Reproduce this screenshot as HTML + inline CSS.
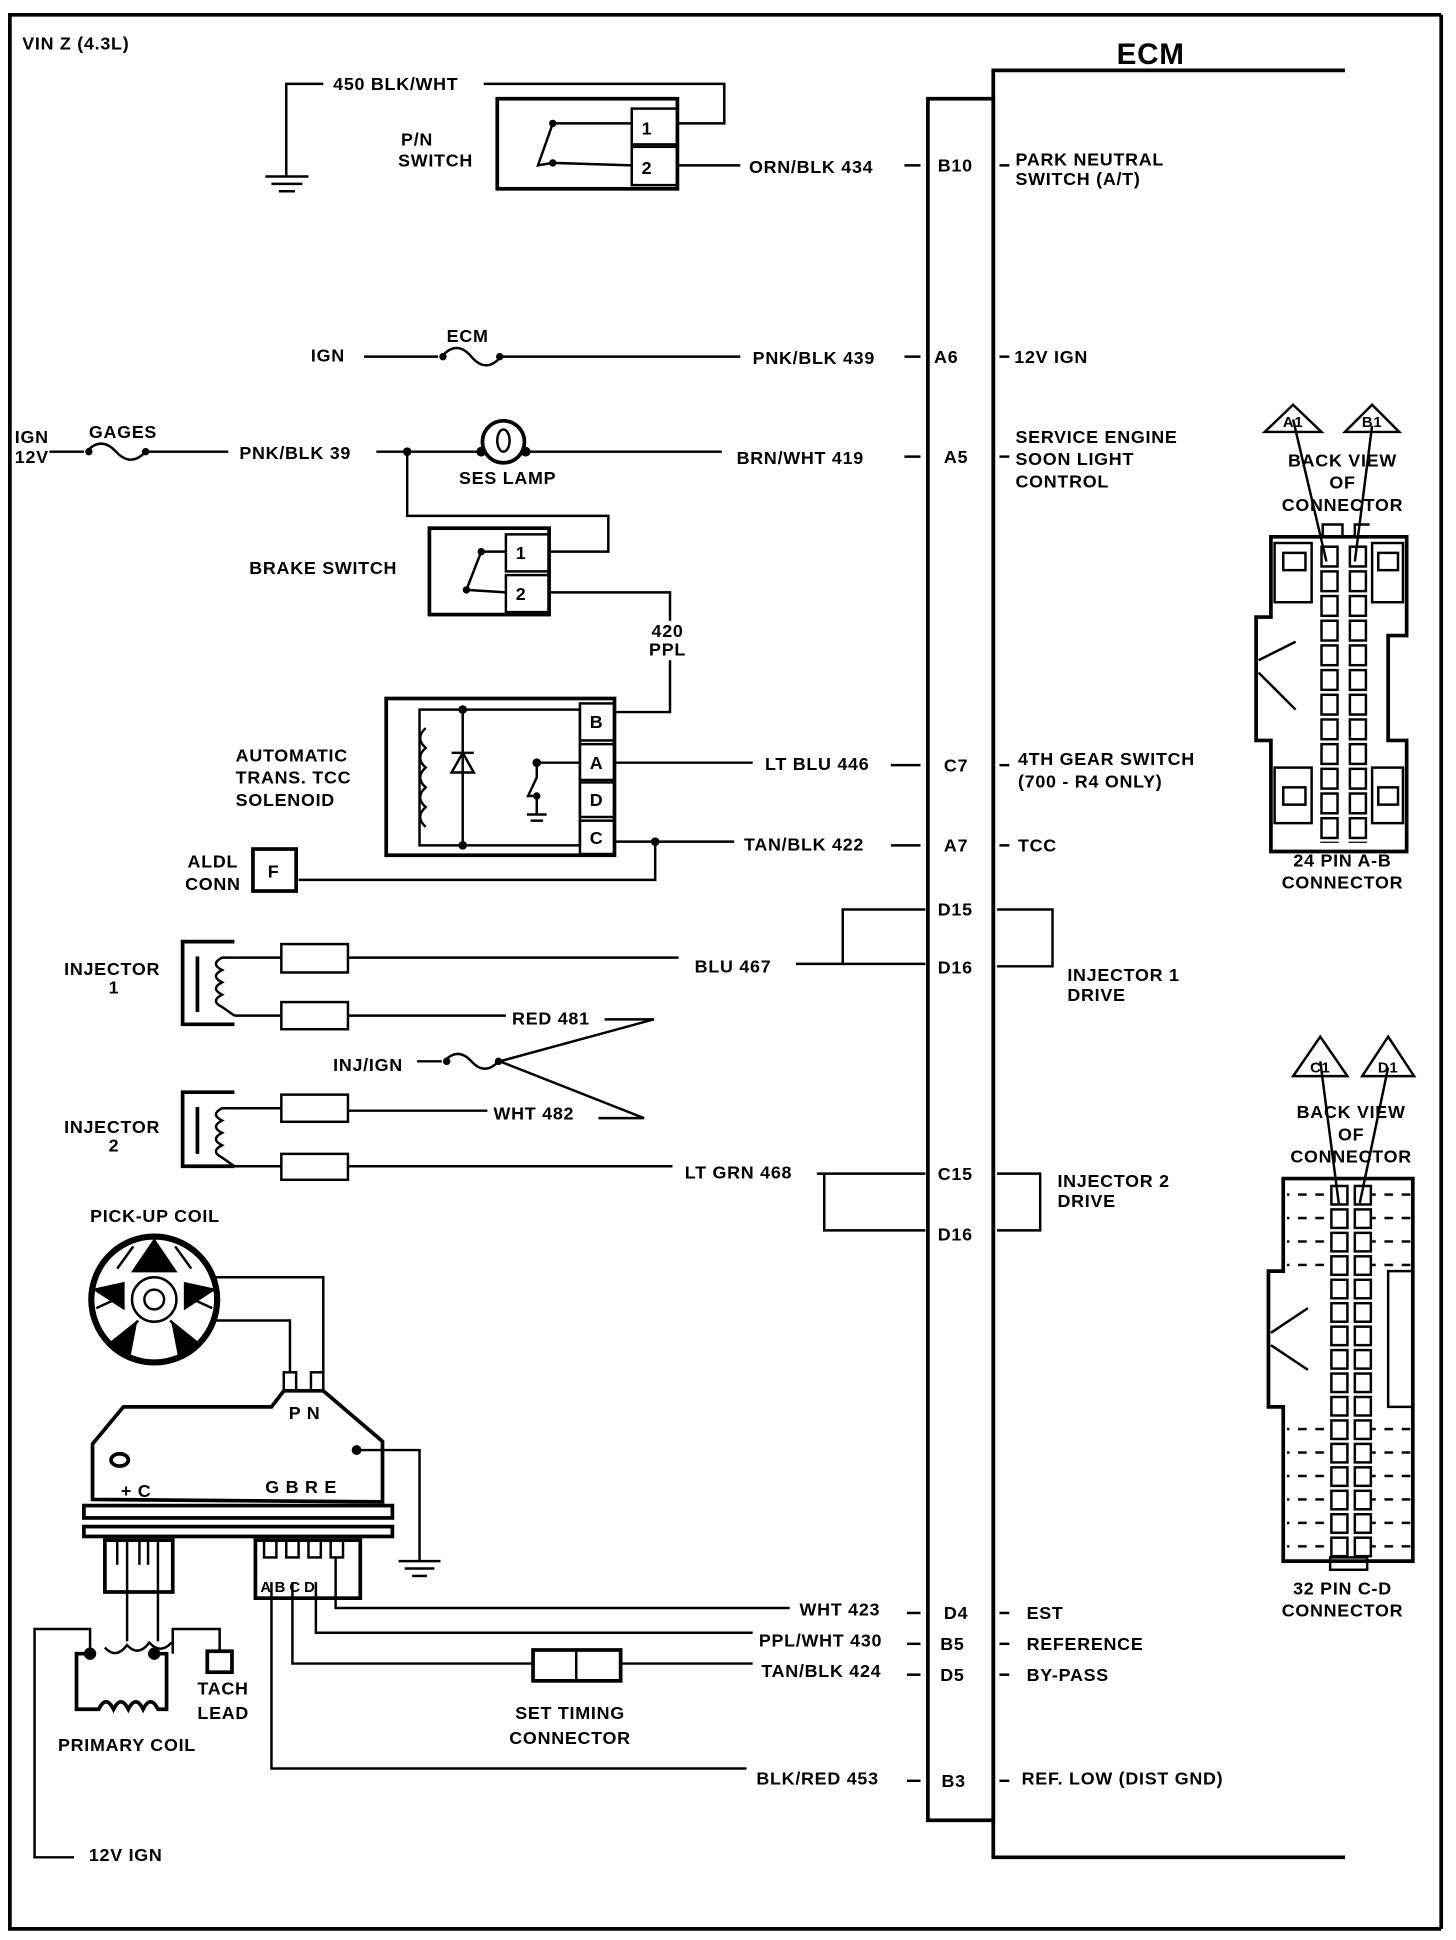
<!DOCTYPE html>
<html><head><meta charset="utf-8"><style>
html,body{margin:0;padding:0;background:#fff;}
svg{display:block;}
text{font-family:"Liberation Sans",sans-serif;font-weight:bold;font-size:14.5px;letter-spacing:0.6px;fill:#000;}
</style></head><body>
<svg width="1456" height="1940" viewBox="0 0 1180 1572" preserveAspectRatio="none" xmlns="http://www.w3.org/2000/svg">
<defs>
<pattern id="pins24" x="1070" y="442" width="23" height="20" patternUnits="userSpaceOnUse"><rect x="1" y="1" width="13" height="16" fill="#fff" stroke="#000" stroke-width="2"/></pattern>
<pattern id="pins32" x="1078" y="960" width="19" height="19" patternUnits="userSpaceOnUse"><rect x="1" y="1" width="13" height="15" fill="#fff" stroke="#000" stroke-width="2"/></pattern>
<pattern id="dash" x="0" y="962" width="14" height="19" patternUnits="userSpaceOnUse"><line x1="2" y1="6" x2="9" y2="6" stroke="#000" stroke-width="2"/></pattern>
</defs>
<g fill="none" stroke="#000" stroke-width="2">
<polyline points="1168,12 8,12 8,1563 1168,1563" stroke-width="3"/>
<line x1="1168" y1="12" x2="1168" y2="1563" stroke-width="3"/>
<polyline points="1090,57 805,57 805,1505 1090,1505" stroke-width="3"/>
<rect x="752" y="80" width="53" height="1395" stroke-width="3"/>
<g>
<line x1="733" y1="134" x2="746" y2="134"/><line x1="810" y1="134" x2="818" y2="134"/>
<line x1="733" y1="289" x2="746" y2="289"/><line x1="810" y1="289" x2="818" y2="289"/>
<line x1="733" y1="370" x2="746" y2="370"/><line x1="810" y1="370" x2="818" y2="370"/>
<line x1="722" y1="620" x2="746" y2="620"/><line x1="810" y1="620" x2="818" y2="620"/>
<line x1="722" y1="685" x2="746" y2="685"/><line x1="810" y1="685" x2="818" y2="685"/>
<line x1="735" y1="1307" x2="746" y2="1307"/><line x1="810" y1="1307" x2="818" y2="1307"/>
<line x1="735" y1="1332" x2="746" y2="1332"/><line x1="810" y1="1332" x2="818" y2="1332"/>
<line x1="735" y1="1357" x2="746" y2="1357"/><line x1="810" y1="1357" x2="818" y2="1357"/>
<line x1="735" y1="1443" x2="746" y2="1443"/><line x1="810" y1="1443" x2="818" y2="1443"/>
</g>
<polyline points="262,68 232,68 232,143"/>
<line x1="215" y1="143" x2="250" y2="143"/><line x1="220" y1="149" x2="245" y2="149"/><line x1="226" y1="155" x2="239" y2="155"/>
<polyline points="392,68 587,68 587,100 549,100"/>
<rect x="403" y="80" width="146" height="73" stroke-width="3"/>
<rect x="512" y="88" width="37" height="29"/><rect x="512" y="119" width="37" height="31"/>
<polyline points="512,100 448,100 436,134 448,132 512,134"/>
<line x1="549" y1="134" x2="600" y2="134"/>
<line x1="295" y1="289" x2="355" y2="289"/>
<path d="M358,289 q12,-14 24,0 q12,14 24,0"/>
<line x1="405" y1="289" x2="600" y2="289"/>
<line x1="40" y1="366" x2="68" y2="366"/>
<path d="M70,366 q12,-13 24,0 q12,13 24,0"/>
<line x1="120" y1="366" x2="185" y2="366"/>
<line x1="305" y1="366" x2="388" y2="366"/>
<circle cx="408" cy="358" r="17" stroke-width="3"/>
<ellipse cx="408" cy="357" rx="5" ry="9"/>
<line x1="428" y1="366" x2="585" y2="366"/>
<polyline points="330,366 330,418 493,418 493,447 445,447"/>
<rect x="348" y="428" width="97" height="70" stroke-width="3"/>
<rect x="410" y="433" width="35" height="30"/><rect x="410" y="466" width="35" height="30"/>
<polyline points="410,447 390,447 378,478 410,480"/>
<polyline points="445,480 543,480 543,503"/>
<polyline points="543,535 543,577 498,577"/>
<rect x="313" y="566" width="185" height="127" stroke-width="3"/>
<rect x="340" y="575" width="130" height="110"/>
<rect x="470" y="570" width="28" height="30"/><rect x="470" y="603" width="28" height="29"/>
<rect x="470" y="634" width="28" height="28"/><rect x="470" y="665" width="28" height="27"/>
<path d="M345,590 q-9,8 0,16 q-9,8 0,16 q-9,8 0,16 q-9,8 0,16 q-9,8 0,16"/>
<line x1="375" y1="575" x2="375" y2="685"/>
<path d="M366,626 L384,626 L375,610 Z M366,610 L384,610"/>
<polyline points="435,618 470,618"/>
<polyline points="435,618 435,630 428,645 435,645 435,660"/>
<line x1="427" y1="660" x2="443" y2="660"/><line x1="430" y1="665" x2="440" y2="665"/>
<line x1="498" y1="618" x2="610" y2="618"/>
<line x1="498" y1="682" x2="595" y2="682"/>
<polyline points="531,682 531,713 242,713"/>
<rect x="205" y="688" width="35" height="34" stroke-width="3"/>
<path d="M190,763 L148,763 L148,830 L190,830" stroke-width="3"/>
<line x1="160" y1="775" x2="160" y2="820" stroke-width="3"/>
<path d="M190,776 L180,776 q-10,5 0,10 q-10,5 0,10 q-10,5 0,10 q-10,5 0,10 L190,823"/>
<line x1="190" y1="776" x2="228" y2="776"/><line x1="190" y1="823" x2="228" y2="823"/>
<rect x="228" y="765" width="54" height="23"/><rect x="228" y="812" width="54" height="22"/>
<line x1="282" y1="776" x2="550" y2="776"/>
<polyline points="645,781 683,781 683,737 750,737"/><line x1="683" y1="781" x2="750" y2="781"/>
<polyline points="808,737 853,737 853,783 808,783"/>
<line x1="282" y1="823" x2="410" y2="823"/>
<polyline points="490,826 530,826 405,860 522,906 485,906"/>
<line x1="338" y1="860" x2="358" y2="860"/>
<path d="M360,860 q11,-12 22,0 q11,12 22,0"/>
<path d="M190,885 L148,885 L148,945 L190,945" stroke-width="3"/>
<line x1="160" y1="897" x2="160" y2="935" stroke-width="3"/>
<path d="M190,898 L180,898 q-10,5 0,10 q-10,5 0,10 q-10,5 0,10 q-10,5 0,10 L190,945"/>
<line x1="190" y1="898" x2="228" y2="898"/><line x1="190" y1="945" x2="228" y2="945"/>
<rect x="228" y="887" width="54" height="22"/><rect x="228" y="935" width="54" height="21"/>
<line x1="282" y1="900" x2="395" y2="900"/>
<line x1="282" y1="945" x2="545" y2="945"/>
<polyline points="662,951 750,951"/><polyline points="668,951 668,997 750,997"/>
<polyline points="808,951 843,951 843,997 808,997"/>
<circle cx="125" cy="1053" r="51" stroke-width="5"/>
<circle cx="125" cy="1053" r="18"/><circle cx="125" cy="1053" r="8"/>
<path d="M108,1010 L95,1028 M142,1010 L155,1028 M78,1060 L100,1050 M172,1060 L150,1050 M95,1090 L112,1070 M155,1090 L138,1070"/>
<path d="M125,1005 L108,1030 L142,1030 Z M77,1045 L100,1060 L100,1040 Z M173,1045 L150,1060 L150,1040 Z M90,1088 L110,1072 L105,1098 Z M160,1088 L140,1072 L145,1098 Z" fill="#000"/>
<polyline points="175,1035 262,1035 262,1112"/><polyline points="175,1070 235,1070 235,1112"/>
<rect x="230" y="1112" width="10" height="15"/><rect x="252" y="1112" width="10" height="15"/>
<polygon points="75,1215 75,1170 100,1140 220,1140 230,1127 262,1127 310,1168 310,1217" stroke-width="3"/>
<ellipse cx="97" cy="1183" rx="7" ry="5" stroke-width="3"/>
<polyline points="289,1175 340,1175 340,1265"/>
<line x1="323" y1="1265" x2="357" y2="1265"/><line x1="328" y1="1271" x2="352" y2="1271"/><line x1="334" y1="1277" x2="346" y2="1277"/>
<rect x="68" y="1220" width="250" height="10" stroke-width="3"/>
<rect x="68" y="1237" width="250" height="8" stroke-width="3"/>
<rect x="85" y="1248" width="55" height="42" stroke-width="3"/>
<line x1="95" y1="1248" x2="95" y2="1268"/><line x1="103" y1="1248" x2="103" y2="1330"/><line x1="113" y1="1248" x2="113" y2="1268"/><line x1="120" y1="1248" x2="120" y2="1268"/><line x1="128" y1="1248" x2="128" y2="1330"/>
<rect x="207" y="1248" width="85" height="47" stroke-width="3"/>
<rect x="214" y="1248" width="10" height="14"/><rect x="232" y="1248" width="10" height="14"/><rect x="250" y="1248" width="10" height="14"/><rect x="268" y="1248" width="10" height="14"/>
<polyline points="272,1262 272,1303 640,1303"/>
<polyline points="256,1282 256,1323 610,1323"/>
<polyline points="237,1282 237,1348 432,1348"/>
<rect x="432" y="1337" width="71" height="25" stroke-width="3"/><line x1="467" y1="1337" x2="467" y2="1362"/>
<line x1="503" y1="1348" x2="610" y2="1348"/>
<polyline points="220,1282 220,1433 605,1433"/>
<path d="M73,1340 L62,1340 L62,1385 L80,1385 q6,-12 12,0 q6,-12 12,0 q6,-12 12,0 q6,-12 12,0 L135,1385 L135,1340 L125,1340" stroke-width="3"/>
<path d="M85,1335 q9,10 18,-2 q9,10 18,-2 q9,10 18,0"/>
<circle cx="73" cy="1340" r="4" fill="#000"/><circle cx="125" cy="1340" r="4" fill="#000"/>
<polyline points="73,1340 73,1320 28,1320 28,1505 60,1505"/>
<polyline points="140,1340 140,1320 178,1320 178,1338"/>
<rect x="168" y="1338" width="20" height="17" stroke-width="3"/>
<path d="M1030,690 L1030,600 L1018,600 L1018,500 L1030,500 L1030,435 L1140,435 L1140,515 L1125,515 L1125,600 L1140,600 L1140,690 Z" stroke-width="3"/>
<rect x="1033" y="440" width="30" height="48"/><rect x="1040" y="448" width="18" height="14"/>
<rect x="1112" y="440" width="25" height="48"/><rect x="1117" y="448" width="16" height="14"/>
<rect x="1033" y="622" width="30" height="45"/><rect x="1040" y="638" width="18" height="14"/>
<rect x="1112" y="622" width="25" height="45"/><rect x="1117" y="638" width="16" height="14"/>
<line x1="1020" y1="535" x2="1050" y2="520"/><line x1="1020" y1="545" x2="1050" y2="575"/>
<rect x="1069" y="441" width="41" height="242" fill="url(#pins24)" stroke="none"/>
<polyline points="1072,435 1072,425 1088,425 1088,435"/><polyline points="1098,435 1098,425 1110,425"/>
<polyline points="1048,340 1075,455"/><polyline points="1112,345 1098,455"/>
<polygon points="1048,328 1025,350 1071,350" /><polygon points="1112,328 1090,350 1134,350"/>
<path d="M1040,1265 L1040,1140 L1028,1140 L1028,1030 L1040,1030 L1040,955 L1145,955 L1145,1030 L1145,1140 L1145,1265 Z" stroke-width="3"/>
<rect x="1125" y="1030" width="20" height="110"/>
<line x1="1030" y1="1080" x2="1060" y2="1060"/><line x1="1030" y1="1090" x2="1060" y2="1110"/>
<rect x="1043" y="958" width="33" height="70" fill="url(#dash)" stroke="none"/>
<rect x="1112" y="958" width="33" height="70" fill="url(#dash)" stroke="none"/>
<rect x="1043" y="1145" width="33" height="115" fill="url(#dash)" stroke="none"/>
<rect x="1112" y="1145" width="33" height="115" fill="url(#dash)" stroke="none"/>
<rect x="1077" y="959" width="38" height="304" fill="url(#pins32)" stroke="none"/>
<rect x="1078" y="1262" width="30" height="10"/>
<polyline points="1070,860 1085,975"/><polyline points="1125,865 1102,975"/>
<polygon points="1070,840 1048,872 1092,872"/><polygon points="1125,840 1104,872 1146,872"/>
</g>
<g fill="#000">
<circle cx="448" cy="100" r="3"/><circle cx="448" cy="132" r="3"/>
<circle cx="359" cy="289" r="3"/><circle cx="405" cy="289" r="3"/>
<circle cx="72" cy="366" r="3"/><circle cx="118" cy="366" r="3"/>
<circle cx="330" cy="366" r="3.5"/><circle cx="390" cy="366" r="4"/><circle cx="426" cy="366" r="4"/>
<circle cx="390" cy="447" r="3"/><circle cx="378" cy="478" r="3"/>
<circle cx="375" cy="575" r="3.5"/><circle cx="375" cy="685" r="3.5"/><circle cx="435" cy="618" r="3.5"/><circle cx="435" cy="645" r="3"/>
<circle cx="531" cy="682" r="3.5"/>
<circle cx="362" cy="860" r="3"/><circle cx="404" cy="860" r="3"/>
<circle cx="289" cy="1175" r="4"/>
</g>
<text x="18" y="40">VIN Z (4.3L)</text>
<text x="905" y="52" style="font-size:24px">ECM</text>
<text x="270" y="73">450 BLK/WHT</text>
<text x="338" y="118" text-anchor="middle">P/N</text><text x="353" y="135" text-anchor="middle">SWITCH</text>
<text x="607" y="140">ORN/BLK  434</text>
<text x="760" y="139">B10</text>
<text x="823" y="134">PARK NEUTRAL</text><text x="823" y="150">SWITCH (A/T)</text>
<text x="252" y="293">IGN</text><text x="362" y="277">ECM</text>
<text x="610" y="295">PNK/BLK 439</text><text x="757" y="294">A6</text><text x="822" y="294">12V IGN</text>
<text x="12" y="359">IGN</text><text x="12" y="375">12V</text><text x="72" y="355">GAGES</text>
<text x="194" y="372">PNK/BLK 39</text><text x="372" y="392">SES LAMP</text>
<text x="597" y="376">BRN/WHT  419</text><text x="765" y="375">A5</text>
<text x="823" y="359">SERVICE ENGINE</text><text x="823" y="377">SOON LIGHT</text><text x="823" y="395">CONTROL</text>
<text x="202" y="465">BRAKE SWITCH</text>
<text x="418" y="453">1</text><text x="418" y="486">2</text><text x="520" y="109">1</text><text x="520" y="141">2</text>
<text x="541" y="516" text-anchor="middle">420</text><text x="541" y="531" text-anchor="middle">PPL</text>
<text x="478" y="590">B</text><text x="478" y="623">A</text><text x="478" y="653">D</text><text x="478" y="684">C</text>
<text x="191" y="617">AUTOMATIC</text><text x="191" y="635">TRANS. TCC</text><text x="191" y="653">SOLENOID</text>
<text x="620" y="624">LT BLU 446</text><text x="765" y="625">C7</text>
<text x="825" y="620">4TH GEAR SWITCH</text><text x="825" y="638">(700 - R4 ONLY)</text>
<text x="152" y="703">ALDL</text><text x="150" y="721">CONN</text><text x="217" y="711">F</text>
<text x="603" y="689">TAN/BLK 422</text><text x="765" y="690">A7</text><text x="825" y="690">TCC</text>
<text x="760" y="742">D15</text><text x="760" y="789">D16</text>
<text x="52" y="790">INJECTOR</text><text x="88" y="805">1</text>
<text x="563" y="788">BLU  467</text>
<text x="865" y="795">INJECTOR 1</text><text x="865" y="811">DRIVE</text>
<text x="415" y="830">RED 481</text>
<text x="270" y="868">INJ/IGN</text>
<text x="400" y="907">WHT 482</text>
<text x="52" y="918">INJECTOR</text><text x="88" y="933">2</text>
<text x="555" y="955">LT GRN 468</text>
<text x="760" y="956">C15</text><text x="760" y="1005">D16</text>
<text x="857" y="962">INJECTOR 2</text><text x="857" y="978">DRIVE</text>
<text x="73" y="990">PICK-UP COIL</text>
<text x="234" y="1150">P N</text>
<text x="98" y="1213">+ C</text><text x="215" y="1210">G B R E</text>
<text x="211" y="1290" style="font-size:12px;letter-spacing:0">A B C D</text>
<text x="648" y="1309">WHT 423</text><text x="765" y="1312">D4</text><text x="832" y="1312">EST</text>
<text x="615" y="1334">PPL/WHT 430</text><text x="762" y="1337">B5</text><text x="832" y="1337">REFERENCE</text>
<text x="617" y="1359">TAN/BLK 424</text><text x="762" y="1362">D5</text><text x="832" y="1362">BY-PASS</text>
<text x="462" y="1393" text-anchor="middle">SET  TIMING</text><text x="462" y="1413" text-anchor="middle">CONNECTOR</text>
<text x="160" y="1373">TACH</text><text x="160" y="1393">LEAD</text>
<text x="47" y="1419">PRIMARY COIL</text>
<text x="613" y="1446">BLK/RED 453</text><text x="763" y="1448">B3</text><text x="828" y="1446">REF. LOW (DIST GND)</text>
<text x="72" y="1508">12V IGN</text>
<text x="1048" y="346" text-anchor="middle" style="font-size:12px">A1</text><text x="1112" y="346" text-anchor="middle" style="font-size:12px">B1</text>
<text x="1088" y="378" text-anchor="middle">BACK VIEW</text><text x="1088" y="396" text-anchor="middle">OF</text><text x="1088" y="414" text-anchor="middle">CONNECTOR</text>
<text x="1088" y="702" text-anchor="middle">24 PIN  A-B</text><text x="1088" y="720" text-anchor="middle">CONNECTOR</text>
<text x="1070" y="869" text-anchor="middle" style="font-size:12px">C1</text><text x="1125" y="869" text-anchor="middle" style="font-size:12px">D1</text>
<text x="1095" y="906" text-anchor="middle">BACK VIEW</text><text x="1095" y="924" text-anchor="middle">OF</text><text x="1095" y="942" text-anchor="middle">CONNECTOR</text>
<text x="1088" y="1292" text-anchor="middle">32  PIN C-D</text><text x="1088" y="1310" text-anchor="middle">CONNECTOR</text>
</svg>
</body></html>
